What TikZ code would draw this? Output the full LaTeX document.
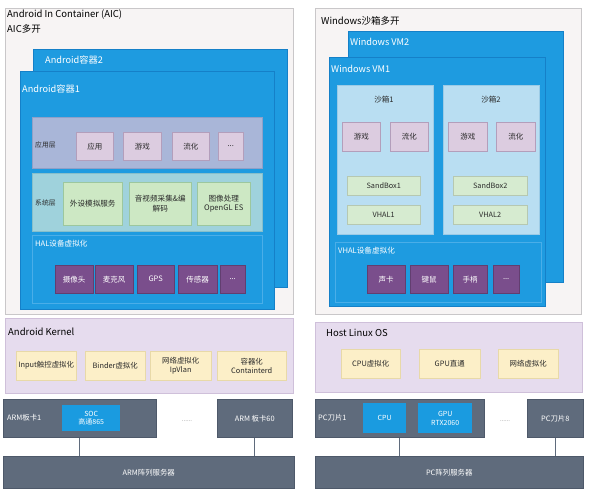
\documentclass[tikz,border=0pt]{standalone}
\usepackage{fontspec}
\setmainfont{Noto Sans CJK SC}
\definecolor{outF}{HTML}{F7F4F4}
\definecolor{outD}{HTML}{C9C7C9}
\definecolor{contF}{HTML}{1E9BE0}
\definecolor{contD}{HTML}{1580C8}
\definecolor{halD}{HTML}{4AAEE8}
\definecolor{appF}{HTML}{A9B6D8}
\definecolor{appD}{HTML}{8FA0C8}
\definecolor{sysF}{HTML}{9FD2DC}
\definecolor{sysD}{HTML}{86BFCB}
\definecolor{itA}{HTML}{DCCCE0}
\definecolor{itAD}{HTML}{B39EBB}
\definecolor{itS}{HTML}{CDE8C4}
\definecolor{itSD}{HTML}{9CC79E}
\definecolor{itH}{HTML}{7A4E8C}
\definecolor{kerF}{HTML}{E6DCEE}
\definecolor{kerD}{HTML}{CFC0DA}
\definecolor{itK}{HTML}{FCEFC8}
\definecolor{itKD}{HTML}{E8D9A8}
\definecolor{armF}{HTML}{5F6B7C}
\definecolor{armD}{HTML}{4E596A}
\definecolor{socF}{HTML}{1A9BE0}
\definecolor{sbF}{HTML}{B9DEF2}
\definecolor{sbD}{HTML}{9CCBE6}
\definecolor{sbI}{HTML}{D6EBD0}
\definecolor{txt}{HTML}{2A2A2A}
\newcommand\bx[7]{\node[#2, anchor=north west, minimum width=#5pt, minimum height=#6pt, inner sep=0pt] (#1) at (#3,#4) {#7};}
\tikzset{
  outer/.style={draw=outD, fill=outF, line width=0.8pt},
  cont/.style={draw=contD, fill=contF, line width=0.6pt},
  halbox/.style={draw=halD, fill=contF, line width=0.6pt},
  applayer/.style={draw=appD, fill=appF, line width=0.5pt},
  syslayer/.style={draw=sysD, fill=sysF, line width=0.5pt},
  appit/.style={draw=itAD, fill=itA, line width=0.5pt, text=txt, font=\fontsize{7.5}{9}\selectfont},
  sysit/.style={draw=itSD, fill=itS, line width=0.5pt, text=txt, align=center, font=\fontsize{7.6}{9.5}\selectfont},
  halit/.style={draw=itH!80!black, fill=itH, line width=0.4pt, text=white, font=\fontsize{7.5}{9}\selectfont},
  kernel/.style={draw=kerD, fill=kerF, line width=0.6pt},
  kerit/.style={draw=itKD, fill=itK, line width=0.4pt, text=txt, align=center, font=\fontsize{7.4}{9}\selectfont},
  arm/.style={draw=armD, fill=armF, line width=0.5pt, text=white, font=\fontsize{7.4}{9}\selectfont},
  soc/.style={fill=socF, text=white, align=center, font=\fontsize{7}{8.5}\selectfont},
  sandbox/.style={draw=sbD, fill=sbF, line width=0.5pt},
  sbit/.style={draw=sbI!85!black, fill=sbI, line width=0.4pt, text=txt, font=\fontsize{7.3}{9}\selectfont},
  ttl/.style={anchor=west, inner sep=0pt, text=black, font=\fontsize{9.5}{14.5}\selectfont},
  ctl/.style={anchor=west, inner sep=0pt, text=white, font=\fontsize{9.2}{11}\selectfont},
  lbl/.style={anchor=west, inner sep=0pt, text=txt, font=\fontsize{6.8}{8}\selectfont},
  wlbl/.style={anchor=west, inner sep=0pt, text=white, font=\fontsize{7.6}{9}\selectfont},
  dots/.style={inner sep=0pt, text=gray, font=\fontsize{6}{7}\selectfont},
  link/.style={draw=armF, line width=0.8pt}
}
\begin{document}
\begin{tikzpicture}[x=1pt,y=-1pt]
\useasboundingbox (0,0) rectangle (589,500);
\fill[white] (0,0) rectangle (589,500);
% ================= LEFT: AIC =================
\bx{aic}{outer}{5}{8}{288}{306}{}
\node[ttl, anchor=north west, align=left] (aict) at (7,10) {Android In Container (AIC)\\AIC多开};
\bx{c2}{cont}{33}{49}{254}{238}{}
\node[ctl] (c2t) at (45,60) {Android容器2};
\bx{c1}{cont}{20}{71}{254}{238}{}
\node[ctl] (c1t) at (22,89) {Android容器1};
% app layer
\bx{app}{applayer}{32}{117}{230}{51}{}
\node[lbl] (appt) at (35,145) {应用层};
\bx{a1}{appit}{76}{132}{37}{28}{应用}
\bx{a2}{appit}{123}{132}{38}{28}{游戏}
\bx{a3}{appit}{172}{132}{37}{28}{流化}
\bx{a4}{appit}{218}{132}{25}{28}{...}
% system layer
\bx{sys}{syslayer}{32}{173}{230}{58}{}
\node[lbl] (syst) at (35,203) {系统层};
\bx{s1}{sysit}{63}{182}{59}{43}{外设模拟服务}
\bx{s2}{sysit}{129}{182}{62}{43}{音视频采集\&编\\解码}
\bx{s3}{sysit}{197}{182}{53}{43}{图像处理\\OpenGL ES}
% HAL
\bx{hal}{halbox}{32}{235}{230}{68}{}
\node[wlbl] (halt) at (35,244) {HAL设备虚拟化};
\bx{h1}{halit}{55}{265}{38}{28}{摄像头}
\bx{h2}{halit}{95}{265}{38}{28}{麦克风}
\bx{h3}{halit}{137}{265}{37}{28}{GPS}
\bx{h4}{halit}{178}{265}{39}{28}{传感器}
\bx{h5}{halit}{220}{265}{25}{28}{...}
% kernel
\bx{ker}{kernel}{5}{318}{288}{75}{}
\node[ttl] (kert) at (8,332) {Android Kernel};
\bx{k1}{kerit}{16}{351}{60}{29}{Input触控虚拟化}
\bx{k2}{kerit}{85}{351}{60}{29}{Binder虚拟化}
\bx{k3}{kerit}{150}{351}{61}{29}{网络虚拟化\\IpVlan}
\bx{k4}{kerit}{217}{351}{69}{29}{容器化\\Containterd}
% ARM boards
\bx{arm1}{arm}{3}{399}{153}{38}{}
\node[wlbl, font=\fontsize{7.4}{9}\selectfont] (arm1t) at (7,418) {ARM板卡1};
\bx{soc}{soc}{62}{405}{58}{26}{SOC\\高通865}
\node[dots] (ldots) at (187,421) {......};
\bx{arm60}{arm}{217}{399}{75}{38}{ARM 板卡60}
\bx{armsrv}{arm}{3}{456}{291}{32}{ARM阵列服务器}
\draw[link] (arm1.south) -- (arm1.south |- armsrv.north);
\draw[link] (arm60.south) -- (arm60.south |- armsrv.north);
% ================= RIGHT: Windows =================
\bx{win}{outer}{315}{8}{266}{306}{}
\node[ttl] (wint) at (321,21) {Windows沙箱多开};
\bx{vm2}{cont}{348}{31}{215}{251}{}
\node[ctl] (vm2t) at (350,42) {Windows VM2};
\bx{vm1}{cont}{329}{57}{216}{249}{}
\node[ctl] (vm1t) at (331,69) {Windows VM1};
% sandboxes
\bx{sb1}{sandbox}{337}{85}{96}{149}{}
\node[lbl, anchor=center, font=\fontsize{7.6}{9}\selectfont] (sb1t) at (384,100) {沙箱1};
\bx{g1}{appit}{342}{122}{38}{29}{游戏}
\bx{l1}{appit}{390}{122}{38}{29}{流化}
\bx{sbx1}{sbit}{347}{176}{73}{19}{SandBox1}
\bx{vh1}{sbit}{347}{205}{73}{19}{VHAL1}
\bx{sb2}{sandbox}{443}{85}{96}{149}{}
\node[lbl, anchor=center, font=\fontsize{7.6}{9}\selectfont] (sb2t) at (491,100) {沙箱2};
\bx{g2}{appit}{448}{122}{39}{29}{游戏}
\bx{l2}{appit}{496}{122}{39}{29}{流化}
\bx{sbx2}{sbit}{453}{176}{74}{19}{SandBox2}
\bx{vh2}{sbit}{453}{205}{74}{19}{VHAL2}
% VHAL
\bx{vhal}{halbox}{335}{242}{206}{60}{}
\node[wlbl] (vhalt) at (338,251) {VHAL设备虚拟化};
\bx{v1}{halit}{367}{265}{38}{28}{声卡}
\bx{v2}{halit}{410}{265}{38}{28}{键鼠}
\bx{v3}{halit}{453}{265}{34}{28}{手柄}
\bx{v4}{halit}{493}{265}{26}{28}{...}
% Host Linux
\bx{host}{kernel}{315}{322}{267}{70}{}
\node[ttl] (hostt) at (326,333) {Host Linux OS};
\bx{o1}{kerit}{341}{349}{59}{29}{CPU虚拟化}
\bx{o2}{kerit}{419}{349}{61}{29}{GPU直通}
\bx{o3}{kerit}{498}{349}{60}{29}{网络虚拟化}
% PC blades
\bx{pc1}{arm}{315}{399}{169}{38}{}
\node[wlbl, font=\fontsize{7.4}{9}\selectfont] (pc1t) at (318,418) {PC刀片1};
\bx{cpu}{soc}{363}{403}{43}{30}{CPU}
\bx{gpu}{soc}{418}{403}{54}{30}{GPU\\RTX2060}
\node[dots] (rdots) at (505,421) {......};
\bx{pc8}{arm}{527}{399}{56}{38}{PC刀片8}
\bx{pcsrv}{arm}{315}{456}{268}{32}{PC阵列服务器}
\draw[link] (pc1.south) -- (pc1.south |- pcsrv.north);
\draw[link] (pc8.south) -- (pc8.south |- pcsrv.north);
\end{tikzpicture}
\end{document}
